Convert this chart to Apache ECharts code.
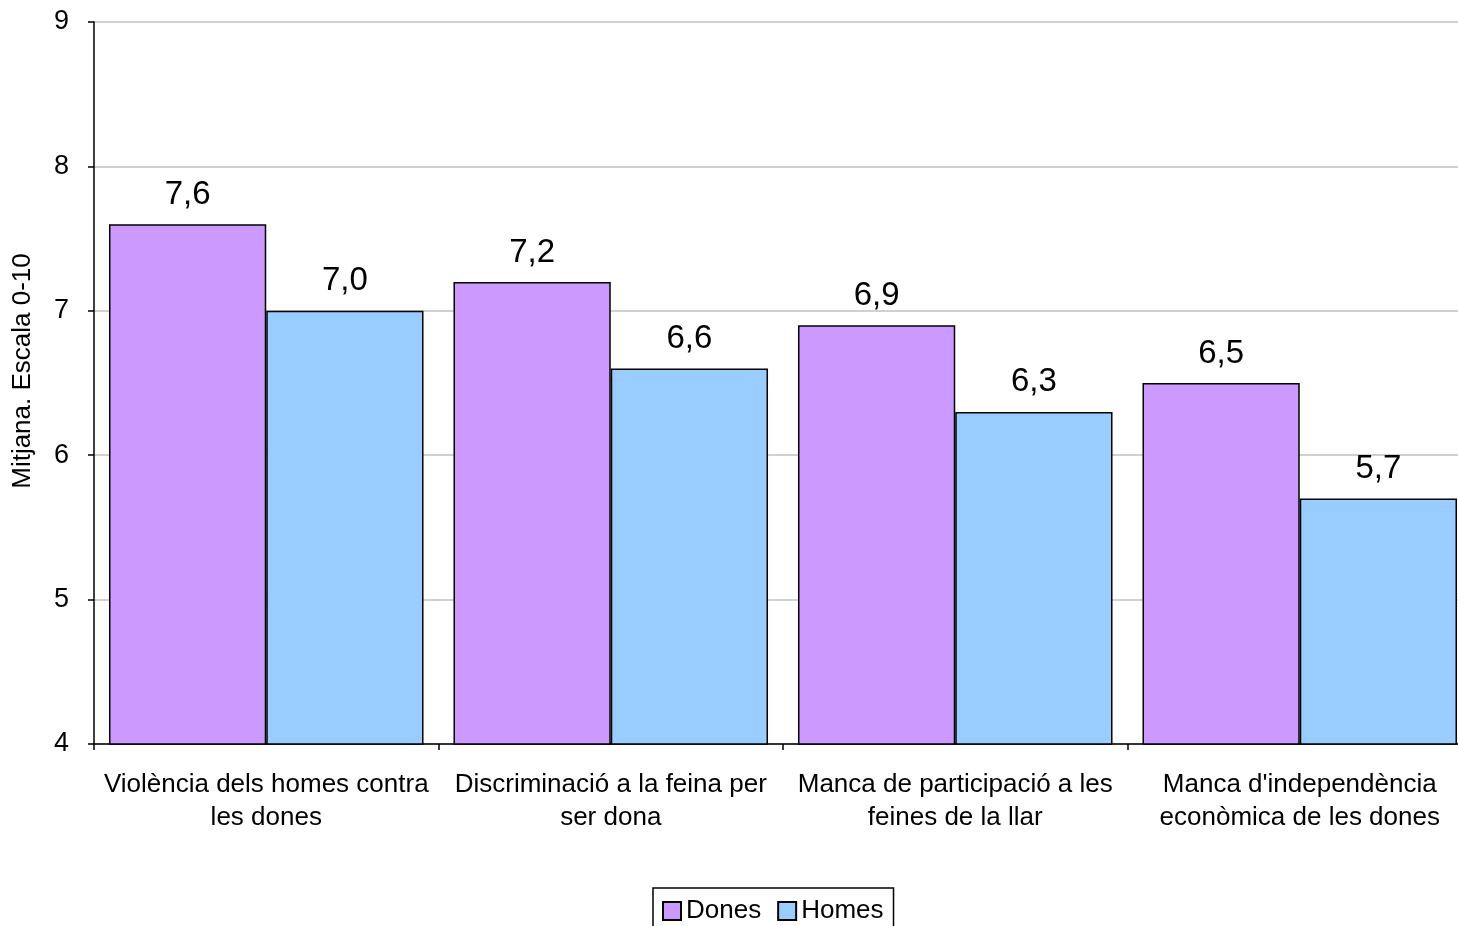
<!DOCTYPE html>
<html>
<head>
<meta charset="utf-8">
<script src="https://cdn.jsdelivr.net/npm/echarts@6/dist/echarts.min.js"></script>
<style>html,body{margin:0;padding:0;background:#fff;}#c{width:1458px;height:926px;}</style>
</head>
<body>
<div id="c"></div>
<script>
var categories = ["Violència dels homes contra\nles dones", "Discriminació a la feina per\nser dona", "Manca de participació a les\nfeines de la llar", "Manca d'independència\neconòmica de les dones"];
var dones = [7.6, 7.2, 6.9, 6.5];
var homes = [7.0, 6.6, 6.3, 5.7];
var yTicks = [4, 5, 6, 7, 8, 9];

var font = "Liberation Sans, Arial, sans-serif";
var chart = echarts.init(document.getElementById('c'), null, {renderer: 'canvas'});
function lbl(p) { return p.value.toFixed(1).replace('.', ','); }
chart.setOption({
  animation: false,
  textStyle: {fontFamily: font, color: '#000'},
  grid: {left: 94, top: 22, width: 1378, height: 722, outerBoundsMode: 'none', containLabel: false},
  legend: {
    left: 653, top: 888, padding: [10, 10, 12, 9],
    borderColor: '#000', borderWidth: 1.5,
    itemWidth: 18, itemHeight: 18, itemGap: 16,
    icon: 'rect',
    textStyle: {fontFamily: font, fontSize: 26, color: '#000'},
    data: ['Dones', 'Homes']
  },
  xAxis: {
    type: 'category', data: categories,
    axisLine: {lineStyle: {color: '#000', width: 1.5}},
    axisTick: {show: true, length: 6, lineStyle: {color: '#000', width: 1.5}},
    axisLabel: {fontFamily: font, fontSize: 26, color: '#000', lineHeight: 33, margin: 24, interval: 0}
  },
  yAxis: {
    type: 'value', min: 4, max: 9, interval: 1,
    name: 'Mitjana. Escala 0-10', nameLocation: 'middle', nameRotate: 90, nameGap: 58,
    nameTextStyle: {fontFamily: font, fontSize: 26, color: '#000', padding: [0, 0, 0, 24]},
    axisLine: {show: true, lineStyle: {color: '#000', width: 1.5}},
    axisTick: {show: true, length: 6, lineStyle: {color: '#000', width: 1.5}},
    axisLabel: {fontFamily: font, fontSize: 27, color: '#000', margin: 25, formatter: function(v){return String(v);}},
    splitLine: {lineStyle: {color: '#c0c0c0', width: 1.5}}
  },
  series: [
    {name: 'Dones', type: 'bar', data: dones, barGap: '0%', barCategoryGap: '8.7%',
     itemStyle: {color: '#cc99ff', borderColor: '#000', borderWidth: 1.5},
     label: {show: true, position: 'top', distance: 13, fontFamily: font, fontSize: 33, color: '#000', formatter: lbl}},
    {name: 'Homes', type: 'bar', data: homes,
     itemStyle: {color: '#99ccff', borderColor: '#000', borderWidth: 1.5},
     label: {show: true, position: 'top', distance: 13, fontFamily: font, fontSize: 33, color: '#000', formatter: lbl}}
  ]
});
</script>
</body>
</html>
